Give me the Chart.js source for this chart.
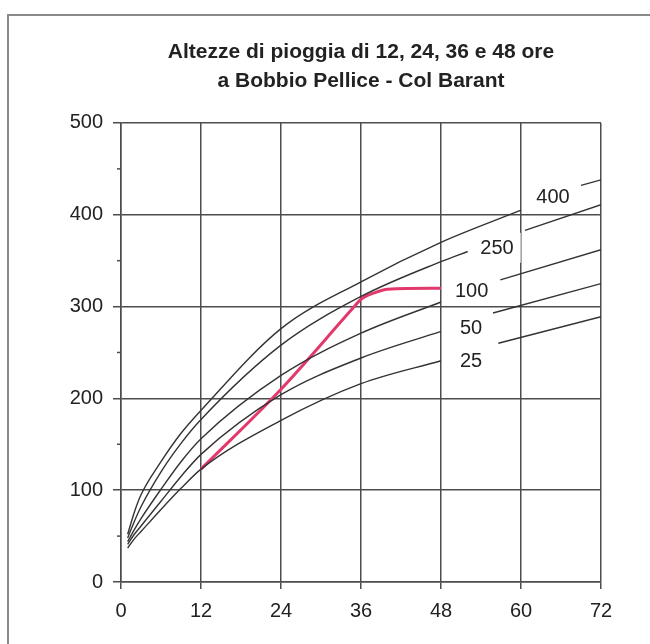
<!DOCTYPE html>
<html>
<head>
<meta charset="utf-8">
<title>Altezze di pioggia - Bobbio Pellice</title>
<script src="https://cdn.jsdelivr.net/npm/chart.js@4/dist/chart.umd.min.js"></script>
<style>
  body { margin: 0; background: #fff; }
  #wrap { position: relative; width: 650px; height: 644px; }
  #frame { position: absolute; left: 7px; top: 14px; right: 0; bottom: 0;
           border-top: 2px solid #8a8a8a; border-left: 2px solid #8a8a8a; }
  canvas { position: absolute; left: 0; top: 0; }
</style>
</head>
<body>
<div id="wrap">
  <div id="frame"></div>
  <canvas id="chart" width="650" height="644"></canvas>
</div>
<script>
// durate (ore) e altezze di pioggia (mm) per tempo di ritorno
var hours = [1, 2, 3, 6, 9, 12, 24, 36, 48];
var h25 = [37, 47, 55, 79, 102, 123, 176, 216, 241];
var h50 = [41, 52, 61, 88, 115, 139, 204, 244, 273];
var h100 = [44, 57, 69, 101, 131, 156, 225, 271, 305];
var hours250 = [1, 2, 3, 6, 9, 12, 24, 36, 48, 52];
var h250 = [48, 66, 82, 120, 151, 177, 258, 311, 349, 360];
var hours400 = [1, 2, 3, 6, 9, 12, 24, 36, 48, 60];
var h400 = [52, 76, 95, 131, 162, 187, 276, 327, 370, 405];

// tratti di prolungamento a destra delle etichette (25, 50, 100, 250, 400)
var extStartHours = [56.6, 55.8, 56.9, 60.6, 69];
var extStartRain = [260, 293, 329, 383, 432];
var extEndHours = [72, 72, 72, 72, 72];
var extEndRain = [289, 325, 362, 411, 438];

// evento osservato (linea rossa)
var eventHours = [12, 24, 35, 36, 38, 40, 48];
var eventRain = [123, 210, 300, 308, 315, 319, 320];

// etichette delle curve
var curveLabels = ['25', '50', '100', '250', '400'];
var labelHours = [52.5, 52.5, 52.6, 56.4, 64.8];
var labelRain = [241, 277, 317, 364, 420];

var xTicks = [0, 12, 24, 36, 48, 60, 72];
var yMax = 500;

function pts(xs, ys) {
  return xs.map(function (x, i) { return { x: x, y: ys[i] }; });
}

var curveColor = '#333';
var gridColor = '#4d4d4d';
var font = "'Liberation Sans', Arial, sans-serif";

var datasets = [];
[[hours, h25], [hours, h50], [hours, h100], [hours250, h250], [hours400, h400]].forEach(function (c) {
  datasets.push({
    data: pts(c[0], c[1]),
    borderColor: curveColor,
    borderWidth: 1.4,
    cubicInterpolationMode: 'monotone'
  });
});
for (var i = 0; i < extStartHours.length; i++) {
  datasets.push({
    data: pts([extStartHours[i], extEndHours[i]], [extStartRain[i], extEndRain[i]]),
    borderColor: curveColor,
    borderWidth: 1.4
  });
}
datasets.push({
  data: pts(eventHours, eventRain),
  borderColor: '#e2386c',
  borderWidth: 3,
  cubicInterpolationMode: 'monotone'
});

// etichette su fondo bianco + tacche minori asse y
var extras = {
  id: 'extras',
  afterDatasetsDraw: function (chart) {
    var ctx = chart.ctx, xs = chart.scales.x, ys = chart.scales.y;
    ctx.save();
    ctx.font = '20px ' + font;
    ctx.textAlign = 'center';
    ctx.textBaseline = 'middle';
    curveLabels.forEach(function (t, i) {
      var px = xs.getPixelForValue(labelHours[i]);
      var py = ys.getPixelForValue(labelRain[i]);
      var w = ctx.measureText(t).width;
      ctx.fillStyle = '#fff';
      ctx.fillRect(px - w / 2 - 7, py - 15, w + 14, 30);
      ctx.fillStyle = '#222';
      ctx.fillText(t, px, py + 1);
    });
    ctx.strokeStyle = gridColor;
    ctx.lineWidth = 1.5;
    for (var v = 50; v < yMax; v += 100) {
      var y = ys.getPixelForValue(v);
      ctx.beginPath();
      ctx.moveTo(xs.left - 4, y);
      ctx.lineTo(xs.left, y);
      ctx.stroke();
    }
    ctx.restore();
  }
};

new Chart(document.getElementById('chart'), {
  type: 'line',
  data: { datasets: datasets },
  plugins: [extras],
  options: {
    responsive: false,
    animation: false,
    layout: { padding: { left: 10, right: 49, top: 37.5, bottom: 22 } },
    elements: { point: { radius: 0 } },
    plugins: {
      legend: { display: false },
      tooltip: { enabled: false },
      title: {
        display: true,
        fullSize: false,
        text: ['Altezze di pioggia di 12, 24, 36 e 48 ore', 'a Bobbio Pellice - Col Barant'],
        color: '#222',
        font: { family: font, size: 21, weight: 'bold', lineHeight: 1.38 },
        padding: { top: 0, bottom: 27.5 }
      }
    },
    scales: {
      x: {
        type: 'linear',
        min: 0,
        max: 72,
        afterBuildTicks: function (s) { s.ticks = xTicks.map(function (v) { return { value: v }; }); },
        afterFit: function (s) { s.height = 40; },
        ticks: { color: '#222', padding: 10, font: { family: font, size: 20 } },
        grid: { color: gridColor, lineWidth: 1.5, tickLength: 7 },
        border: { color: gridColor, width: 1.5 }
      },
      y: {
        min: 0,
        max: yMax,
        afterFit: function (s) { s.width = 111; },
        ticks: { stepSize: 100, color: '#222', padding: 10, font: { family: font, size: 20 } },
        grid: { color: gridColor, lineWidth: 1.5, tickLength: 8 },
        border: { color: gridColor, width: 1.5 }
      }
    }
  }
});
</script>
</body>
</html>
